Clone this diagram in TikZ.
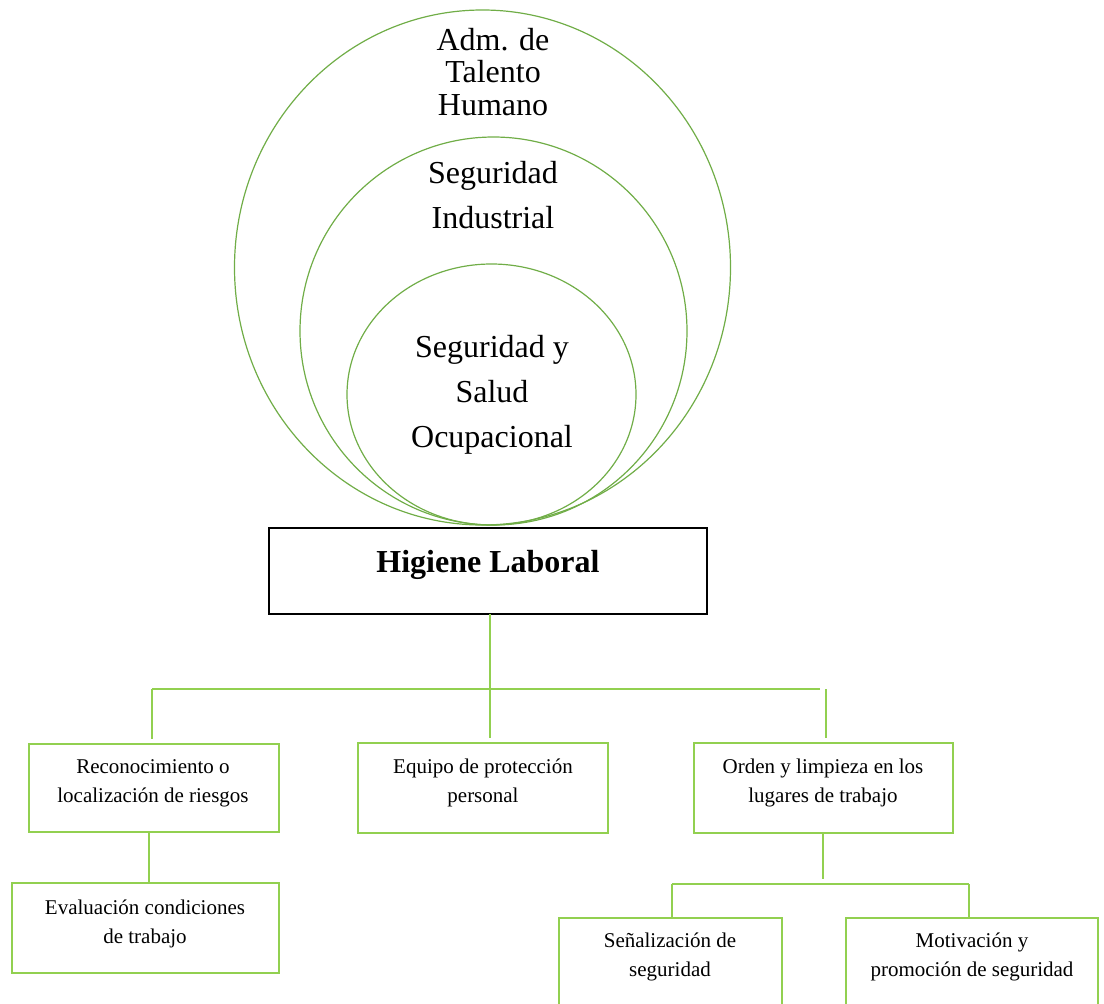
\documentclass[tikz,border=0pt]{standalone}
\usepackage{fontspec}
\setmainfont{Liberation Serif}
\usetikzlibrary{shapes.geometric}
\definecolor{ringgreen}{RGB}{112,173,71}
\definecolor{linegreen}{RGB}{146,208,80}
\tikzset{
  ring/.style={ellipse, draw=ringgreen, line width=1.2pt, inner sep=0pt, outer sep=0pt},
  gbox/.style={rectangle, draw=linegreen, line width=2.2pt, inner sep=0pt, outer sep=0pt, anchor=north west},
  hbox/.style={rectangle, draw=black, line width=2.6pt, inner sep=0pt, outer sep=0pt, anchor=north west},
  gline/.style={draw=linegreen, line width=2.2pt},
  bigtxt/.style={align=center, inner sep=0pt, anchor=base, font=\fontsize{32}{45}\selectfont},
  toptxt/.style={align=center, inner sep=0pt, anchor=base, font=\fontsize{32}{32.5}\selectfont},
  smalltxt/.style={align=center, inner sep=0pt, anchor=base, font=\fontsize{21}{28.5}\selectfont},
}
\begin{document}
\begin{tikzpicture}[x=1pt,y=-1pt]
\useasboundingbox (0,0) rectangle (1104,1004);
\clip (0,0) rectangle (1104,1004);
% rings
\node[ring, minimum width=496pt, minimum height=515pt] (ring1) at (482.5,267.5) {};
\node[ring, minimum width=387pt, minimum height=388pt] (ring2) at (493.5,331) {};
\node[ring, minimum width=289pt, minimum height=261pt] (ring3) at (491.5,394.5) {};
% texts (anchor base = baseline of the last line)
\node[toptxt] (t1) at (493,115) {Adm. de\\Talento\\Humano};
\node[bigtxt] (t2) at (493,228) {Seguridad\\Industrial};
\node[bigtxt] (t3) at (492,447) {Seguridad y\\Salud\\Ocupacional};
% main box
\node[hbox, minimum width=438pt, minimum height=86pt] (hl) at (269,528) {};
\node[inner sep=0pt, anchor=base, font=\fontsize{32}{38}\selectfont\bfseries] (hlt) at (488,572) {Higiene Laboral};
% boxes
\node[gbox, minimum width=250pt, minimum height=88pt] (rec) at (29,744) {};
\node[gbox, minimum width=267pt, minimum height=90pt] (eva) at (12,883) {};
\node[gbox, minimum width=250pt, minimum height=90pt] (equ) at (358,743) {};
\node[gbox, minimum width=259pt, minimum height=90pt] (ord) at (694,743) {};
\node[gbox, minimum width=223pt, minimum height=110pt] (sen) at (559,918) {};
\node[gbox, minimum width=252pt, minimum height=110pt] (mot) at (846,918) {};
\node[smalltxt] (rect) at (153,802) {Reconocimiento o\\localización de riesgos};
\node[smalltxt] (evat) at (145,943) {Evaluación condiciones\\de trabajo};
\node[smalltxt] (equt) at (483,802) {Equipo de protección\\personal};
\node[smalltxt] (ordt) at (823,802) {Orden y limpieza en los\\lugares de trabajo};
\node[smalltxt] (sent) at (670,976) {Señalización de\\seguridad};
\node[smalltxt] (mott) at (972,976) {Motivación y\\promoción de seguridad};
% connectors
\coordinate (busL) at (152,689);
\coordinate (busM) at (490,689);
\coordinate (busR) at (820,689);
\coordinate (busRR) at (826,689);
\coordinate (recdown) at (149,832);
\coordinate (orddown) at (823,833);
\coordinate (bus2L) at (672,884);
\coordinate (bus2R) at (969,884);
\draw[gline] (busM |- hl.south) -- (busM);
\draw[gline] (busL) -- (busR);
\draw[gline, shorten >=5pt] (busL) -- (busL |- rec.north);
\draw[gline, shorten >=5pt] (busM) -- (busM |- equ.north);
\draw[gline, shorten >=5pt] (busRR) -- (busRR |- ord.north);
\draw[gline] (recdown) -- (recdown |- eva.north);
\draw[gline, shorten >=5pt] (orddown) -- (orddown |- bus2L);
\draw[gline] (bus2L) -- (bus2R);
\draw[gline] (bus2L) -- (bus2L |- sen.north);
\draw[gline] (bus2R) -- (bus2R |- mot.north);
\end{tikzpicture}
\end{document}
